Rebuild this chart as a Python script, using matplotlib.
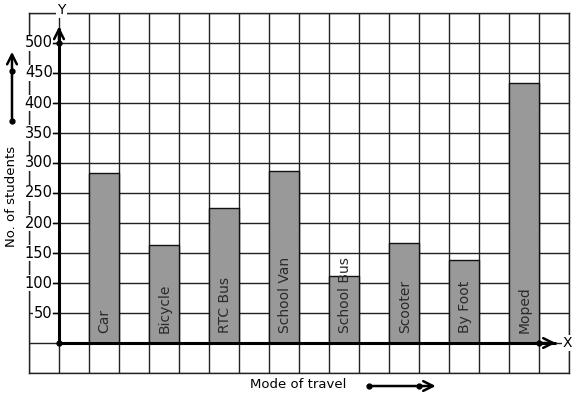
import matplotlib
matplotlib.use("Agg")
import matplotlib.pyplot as plt
import numpy as np

categories = ["Car", "Bicycle", "RTC Bus", "School Van", "School Bus", "Scooter", "By Foot", "Moped"]
values = [283, 163, 225, 287, 112, 166, 138, 433]
ytick_values = [50, 100, 150, 200, 250, 300, 350, 400, 450, 500]
ytick_labels = ["50", "100", "150", "200", "250", "300", "350", "400", "450", "500"]
positions = [1.5, 3.5, 5.5, 7.5, 9.5, 11.5, 13.5, 15.5]

W, H = 577, 399
fig = plt.figure(figsize=(W / 100, H / 100), dpi=100)
ax = fig.add_axes([29 / W, (H - 373) / H, 540 / W, 360 / H])
ax.set_xlim(-1, 17)
ax.set_ylim(-50, 550)

gc = "#222222"
ax.set_xticks(np.arange(-1, 18, 1))
ax.set_yticks(np.arange(-50, 551, 50))
ax.tick_params(length=0, labelbottom=False, labelleft=False)
ax.grid(True, color=gc, linewidth=1.0)
ax.set_axisbelow(True)
for s in ax.spines.values():
    s.set_color(gc)
    s.set_linewidth(1.0)

ax.bar(positions, values, width=1.0, color="#999999", edgecolor="#111111", linewidth=1.0, zorder=2)

for p, c in zip(positions, categories):
    ax.annotate(c, (p, 0), xytext=(0.5, 7.5), textcoords="offset points", rotation=90,
                ha="center", va="bottom", fontsize=10, color="#2a2a2a", zorder=3)

# axes lines
ax.plot([0, 16.55], [0, 0], color="black", lw=2.2, zorder=4, solid_capstyle="butt")
ax.plot([0, 0], [0, 525], color="black", lw=2.2, zorder=4, solid_capstyle="butt")
ax.annotate("", xy=(16.65, 0), xytext=(16.0, 0),
            arrowprops=dict(arrowstyle="->,head_length=0.7,head_width=0.35", lw=1.8, color="black"), zorder=5)
ax.annotate("", xy=(0, 532), xytext=(0, 500),
            arrowprops=dict(arrowstyle="->,head_length=0.7,head_width=0.35", lw=1.8, color="black"), zorder=5)
ax.plot([0, 0, 16], [0, 500, 0], "o", color="black", ms=3.5, zorder=6, linestyle="none")

ax.text(0.07, 555, "Y", ha="center", va="center", fontsize=10,
        bbox=dict(facecolor="white", edgecolor="none", pad=1), zorder=6, clip_on=False)
ax.text(16.95, 0, "X", ha="center", va="center", fontsize=10,
        bbox=dict(facecolor="white", edgecolor="none", pad=0.5), zorder=6, clip_on=False)

for v, lab in zip(ytick_values, ytick_labels):
    ax.annotate(lab, (0, v), xytext=(-4.5, 0), textcoords="offset points", ha="right", va="center",
                fontsize=10.5, color="black", zorder=5,
                bbox=dict(facecolor="white", edgecolor="none", pad=0.5))
    ax.plot([-0.2, 0], [v, v], color="black", lw=1.0, zorder=6)

# y label and arrow
fig.text(12 / W, 1 - 196 / H, "No. of students", rotation=90, ha="center", va="center", fontsize=9.5)
ax.annotate("", xy=(-1.567, 490), xytext=(-1.567, 370),
            arrowprops=dict(arrowstyle="->,head_length=0.7,head_width=0.35", lw=1.8, color="black"),
            annotation_clip=False)
ax.plot([-1.567, -1.567], [370, 453], "o", color="black", ms=3.5, clip_on=False, linestyle="none")

# x label and arrow
fig.text(298 / W, 1 - 385 / H, "Mode of travel", ha="center", va="center", fontsize=9.5)
ax.annotate("", xy=(12.65, -71.7), xytext=(10.33, -71.7),
            arrowprops=dict(arrowstyle="->,head_length=0.7,head_width=0.35", lw=1.8, color="black"),
            annotation_clip=False)
ax.plot([10.33, 12.0], [-71.7, -71.7], "o", color="black", ms=3.5, clip_on=False, linestyle="none")

fig.savefig("out.png", dpi=100)
